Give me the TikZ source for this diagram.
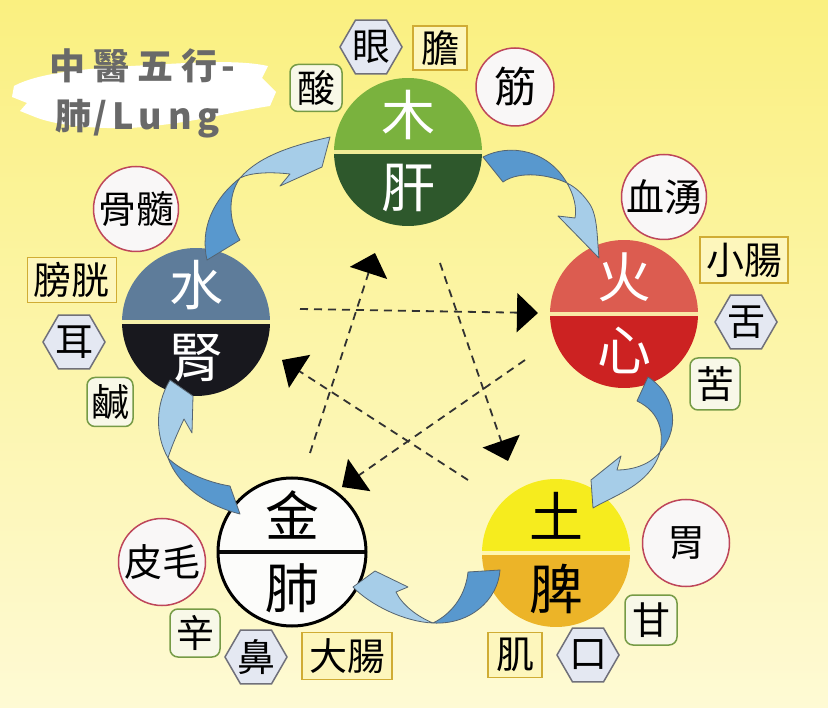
\documentclass[tikz,border=0pt]{standalone}
\usepackage{fontspec}
\newfontfamily\cjk{Noto Sans CJK TC}
\newfontfamily\cjktitle[LetterSpace=5]{Noto Sans CJK TC}
\newfontfamily\cjktitlewide[LetterSpace=16]{Noto Sans CJK TC}
\usetikzlibrary{arrows.meta,shapes.geometric}

\definecolor{bgtop}{RGB}{250,240,128}
\definecolor{bgmid}{RGB}{250,244,168}
\definecolor{bgbot}{RGB}{254,250,212}
\definecolor{woodT}{RGB}{122,178,62}
\definecolor{woodB}{RGB}{46,88,44}
\definecolor{wooddiv}{RGB}{240,236,150}
\definecolor{fireT}{RGB}{220,92,80}
\definecolor{fireB}{RGB}{204,34,34}
\definecolor{firediv}{RGB}{250,232,165}
\definecolor{waterT}{RGB}{94,124,154}
\definecolor{waterB}{RGB}{24,24,30}
\definecolor{waterdiv}{RGB}{245,240,170}
\definecolor{earthT}{RGB}{246,236,30}
\definecolor{earthB}{RGB}{236,180,40}
\definecolor{earthdiv}{RGB}{255,246,175}
\definecolor{metalT}{RGB}{252,252,250}
\definecolor{metalB}{RGB}{252,252,250}
\definecolor{metaldiv}{RGB}{10,10,10}
\definecolor{tailblue}{RGB}{88,152,206}
\definecolor{headblue}{RGB}{166,205,232}
\definecolor{arrowline}{RGB}{85,100,112}
\definecolor{dashcol}{RGB}{50,50,50}
\definecolor{titlegray}{RGB}{105,105,105}

\newcommand\wuxing[9][]{%
  \node[maincirc, path picture={
      \fill[#5] (path picture bounding box.north west) rectangle (path picture bounding box.east);
      \fill[#6] (path picture bounding box.west) rectangle (path picture bounding box.south east);
      \fill[#2div] ([yshift=2.4pt]path picture bounding box.west) rectangle ([yshift=-2.4pt]path picture bounding box.east);
    }, #1] (#2) at (#3,#4) {};
  \node[maintext, text=#9] (#2up) at ([yshift=37pt]#2.center) {#7};
  \node[maintext, text=#9] (#2low) at ([yshift=-36pt]#2.center) {#8};
}

\begin{document}
\begin{tikzpicture}[x=1pt,y=-1pt,
  every node/.style={inner sep=0pt},
  maincirc/.style={circle, minimum size=148pt, inner sep=0pt},
  maintext/.style={font=\cjk\fontsize{54}{54}\selectfont},
  sat/.style={font=\cjk\fontsize{38}{38}\selectfont, text=black, line width=1.5pt},
  organ/.style={sat, circle, draw={rgb,255:red,190;green,70;blue,90}, fill={rgb,255:red,249;green,247;blue,247}},
  fu/.style={sat, rectangle, draw={rgb,255:red,208;green,172;blue,52}, fill={rgb,255:red,253;green,246;blue,188}},
  sense/.style={sat, regular polygon, regular polygon sides=6, minimum size=61pt, draw={rgb,255:red,112;green,112;blue,122}, fill={rgb,255:red,228;green,232;blue,242}},
  taste/.style={sat, rectangle, rounded corners=8pt, draw={rgb,255:red,118;green,155;blue,70}, fill={rgb,255:red,248;green,248;blue,232}},
  ctrl/.style={draw=dashcol, line width=1.8pt, dash pattern=on 8pt off 6pt, -{Triangle[length=21pt,width=39pt,color=black]}},
  tail/.style={fill=tailblue, draw=arrowline, line width=0.8pt, line join=round},
  head/.style={fill=headblue, draw=arrowline, line width=0.8pt, line join=round},
  titletext/.style={font=\cjktitle\bfseries\fontsize{36}{36}\selectfont, text=titlegray}
]
\useasboundingbox (0,0) rectangle (828,708);
\shade[top color=bgtop, middle color=bgmid, bottom color=bgbot] (0,0) rectangle (828,708);

% title brush and text
\fill[white] (14,86) .. controls (40,72) and (90,68) .. (150,65) .. controls (200,62) and (240,60) .. (268,66)
  -- (262,78) -- (276,92) -- (270,106) .. controls (230,112) and (190,124) .. (130,128)
  .. controls (90,129) and (55,125) .. (35,117) -- (20,111) -- (27,103) -- (12,97) -- cycle;
\node[titletext, anchor=base west] (title1) at (49,80) {中\hspace{8pt}醫\hspace{8pt}五\hspace{8pt}行\hspace{4pt}-};
\node[titletext, anchor=base west] (title2) at (55,130) {肺\hspace{2pt}/\hspace{5pt}{\cjktitlewide\bfseries Lung}};

% controlling cycle (dashed)
\coordinate (d1s) at (300,309); \coordinate (d1e) at (538,313);
\coordinate (d2s) at (440,263); \coordinate (d2e) at (508,461);
\coordinate (d3s) at (310,453); \coordinate (d3e) at (375,253);
\coordinate (d4s) at (468,480); \coordinate (d4e) at (282,360);
\coordinate (d5s) at (525,360); \coordinate (d5e) at (342,487);
\draw[ctrl] (d1s) -- (d1e);
\draw[ctrl] (d2s) -- (d2e);
\draw[ctrl] (d3s) -- (d3e);
\draw[ctrl] (d4s) -- (d4e);
\draw[ctrl] (d5s) -- (d5e);

% five elements
\wuxing{wood}{408}{152}{woodT}{woodB}{木}{肝}{white}
\wuxing{fire}{624}{314}{fireT}{fireB}{火}{心}{white}
\wuxing{water}{196}{322}{waterT}{waterB}{水}{腎}{white}
\wuxing{earth}{556}{553}{earthT}{earthB}{土}{脾}{black}
\wuxing[draw=black, line width=3pt]{metal}{292}{552}{metalT}{metalB}{金}{肺}{black}

% generating cycle (blue twisted arrows)
% wood -> fire
\path[tail] (483,157) .. controls (510,143) and (548,150) .. (567,183) .. controls (550,175) and (520,170) .. (503,182) -- cycle;
\path[head] (567,183) .. controls (574,195) and (577,208) .. (575,218) -- (558,216) -- (599,258)
  .. controls (597,240) and (598,215) .. (589,203) .. controls (582,193) and (575,187) .. (567,183) -- cycle;
% fire -> earth
\path[tail] (648,377) .. controls (672,392) and (683,425) .. (660,452) .. controls (664,432) and (660,412) .. (637,401) -- cycle;
\path[head] (660,452) .. controls (650,465) and (632,470) .. (617,470) -- (621,456) -- (591,480) -- (593,508)
  .. controls (615,495) and (650,485) .. (660,452) -- cycle;
% earth -> metal
\path[tail] (500,570) .. controls (498,600) and (470,625) .. (433,623) .. controls (455,612) and (466,592) .. (468,572) -- cycle;
\path[head] (433,623) .. controls (405,622) and (370,605) .. (353,587) -- (375,571) -- (408,587) -- (396,592)
  .. controls (402,605) and (418,617) .. (433,623) -- cycle;
% metal -> water
\path[tail] (230,486) .. controls (205,482) and (180,470) .. (168,458) .. controls (178,485) and (205,505) .. (240,514) -- cycle;
\path[head] (168,458) .. controls (155,435) and (155,405) .. (170,380) -- (193,396) -- (192,433) -- (184,419)
  .. controls (178,432) and (172,445) .. (168,458) -- cycle;
% water -> wood
\path[tail] (207,260) .. controls (200,230) and (212,200) .. (240,178) .. controls (228,195) and (228,220) .. (240,240) -- cycle;
\path[head] (240,178) .. controls (260,155) and (295,145) .. (330,137) -- (322,167) -- (280,186) -- (290,174)
  .. controls (272,172) and (252,172) .. (240,178) -- cycle;

% satellites: tissues (circles)
\node[organ, minimum size=78pt, font=\cjk\fontsize{42}{42}\selectfont] (jin) at (515,87) {筋};
\node[organ, minimum size=85pt] (xueyong) at (664,197) {血湧};
\node[organ, minimum size=85pt] (gusui) at (136,209) {骨髓};
\node[organ, minimum size=87pt] (wei) at (686,543) {胃};
\node[organ, minimum size=87pt] (pimao) at (162,562) {皮毛};
% fu organs (rectangles)
\node[fu, minimum width=54pt, minimum height=44pt] (dan) at (440,48) {膽};
\node[fu, minimum width=88pt, minimum height=46pt] (xiaochang) at (744,260) {小腸};
\node[fu, minimum width=89pt, minimum height=45pt] (pangguang) at (72,280) {膀胱};
\node[fu, minimum width=54pt, minimum height=45pt] (ji) at (515,655) {肌};
\node[fu, minimum width=90pt, minimum height=47pt] (dachang) at (347,656) {大腸};
% senses (hexagons)
\node[sense] (yan) at (371,47) {眼};
\node[sense] (she) at (746,322) {舌};
\node[sense] (er) at (74,342) {耳};
\node[sense] (kou) at (588,655) {口};
\node[sense] (bi) at (256,657) {鼻};
% tastes (rounded squares)
\node[taste, minimum width=52pt, minimum height=47pt] (suan) at (316,88) {酸};
\node[taste, minimum width=50pt, minimum height=52pt] (ku) at (715,384) {苦};
\node[taste, minimum width=46pt, minimum height=49pt] (xian) at (110,402) {鹹};
\node[taste, minimum width=52pt, minimum height=50pt] (gan) at (651,620) {甘};
\node[taste, minimum width=50pt, minimum height=48pt] (xin) at (195,633) {辛};
\end{tikzpicture}
\end{document}
